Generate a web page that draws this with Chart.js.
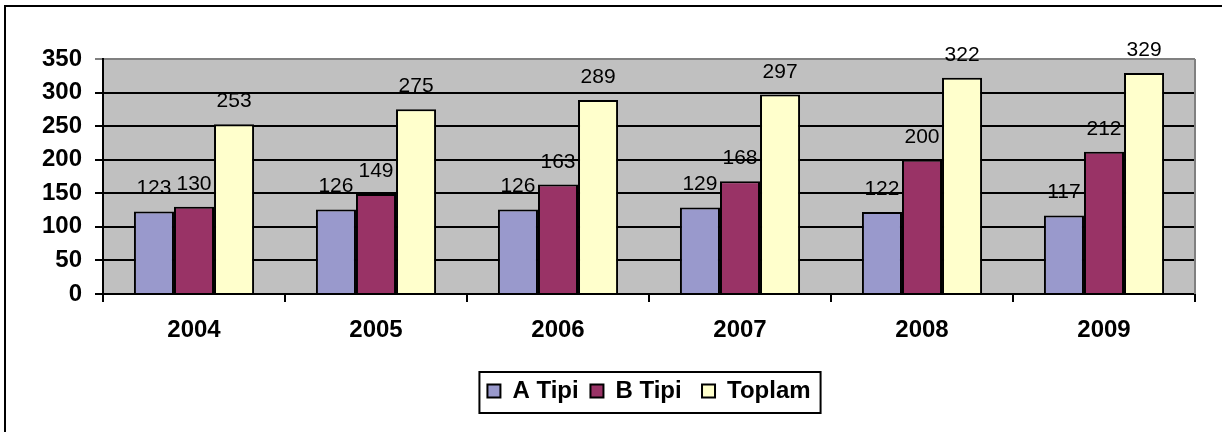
<!DOCTYPE html>
<html>
<head>
<meta charset="utf-8">
<script src="https://cdn.jsdelivr.net/npm/chart.js@4.4.1/dist/chart.umd.min.js"></script>
<style>
  html, body { margin: 0; padding: 0; background: #fff; }
  #wrap { width: 1222px; height: 432px; position: relative; }
</style>
</head>
<body>
<div id="wrap"><canvas id="salesChart"></canvas></div>
<script>
const years = ['2004', '2005', '2006', '2007', '2008', '2009'];
const aTipi = [123, 126, 126, 129, 122, 117];
const bTipi = [130, 149, 163, 168, 200, 212];
const toplam = [253, 275, 289, 297, 322, 329];
const yTicks = [0, 50, 100, 150, 200, 250, 300, 350];

// gri çizim alanı, değer etiketleri, lejant çerçevesi
const excelLook = {
    id: 'excelLook',
    beforeDraw(chart) {
        const a = chart.chartArea;
        const ctx = chart.ctx;
        ctx.save();
        ctx.fillStyle = '#C0C0C0';
        ctx.fillRect(a.left, a.top, a.right - a.left, a.bottom - a.top);
        ctx.restore();
    },
    afterDatasetsDraw(chart) {
        const ctx = chart.ctx;
        ctx.save();
        ctx.font = '21px "Liberation Sans", Arial, sans-serif';
        ctx.fillStyle = '#000';
        ctx.textAlign = 'center';
        ctx.textBaseline = 'alphabetic';
        chart.data.datasets.forEach((ds, i) => {
            chart.getDatasetMeta(i).data.forEach((bar, j) => {
                ctx.fillText(ds.data[j], bar.x, bar.y - 17);
            });
        });
        ctx.restore();
    },
    afterDraw(chart) {
        const ctx = chart.ctx;
        const a = chart.chartArea;
        ctx.save();
        // sağ kenar
        ctx.strokeStyle = '#808080';
        ctx.lineWidth = 2;
        ctx.beginPath();
        ctx.moveTo(a.right, a.top);
        ctx.lineTo(a.right, a.bottom);
        ctx.stroke();
        // lejant çerçevesi
        const lg = chart.legend;
        if (lg && lg.legendHitBoxes && lg.legendHitBoxes.length) {
            const hb = lg.legendHitBoxes;
            const l = hb[0].left - 8;
            const r = hb[hb.length - 1].left + hb[hb.length - 1].width + 10;
            ctx.strokeStyle = '#000';
            ctx.lineWidth = 2;
            ctx.strokeRect(l, lg.top, r - l, lg.bottom - lg.top);
        }
        // dış çerçeve
        ctx.lineWidth = 2;
        ctx.strokeStyle = '#000';
        ctx.beginPath();
        ctx.moveTo(5, 432);
        ctx.lineTo(5, 6);
        ctx.lineTo(1222, 6);
        ctx.stroke();
        ctx.restore();
    }
};

const boldFont = { family: '"Liberation Sans", Arial, sans-serif', size: 24, weight: 'bold' };
const legendGap = ['\u2009', '\u00a0\u00a0', ''];

new Chart(document.getElementById('salesChart'), {
    type: 'bar',
    data: {
        labels: years,
        datasets: [
            { label: 'A Tipi', data: aTipi, backgroundColor: '#9999CC' },
            { label: 'B Tipi', data: bTipi, backgroundColor: '#993366' },
            { label: 'Toplam', data: toplam, backgroundColor: '#FFFFCC' }
        ].map(d => Object.assign(d, {
            borderColor: '#000',
            borderWidth: 2,
            categoryPercentage: 0.66,
            barPercentage: 1.0
        }))
    },
    options: {
        responsive: true,
        maintainAspectRatio: false,
        animation: false,
        layout: { padding: { left: 0, right: 27, top: 59, bottom: 19 } },
        plugins: {
            tooltip: { enabled: false },
            legend: {
                position: 'bottom',
                fullSize: false,
                labels: {
                    font: boldFont,
                    color: '#000',
                    boxWidth: 13,
                    boxHeight: 13,
                    padding: 7,
                    generateLabels(chart) {
                        const items = Chart.defaults.plugins.legend.labels.generateLabels(chart);
                        items.forEach((it, i) => { it.text = it.text + legendGap[i]; });
                        return items;
                    }
                }
            }
        },
        scales: {
            x: {
                offset: true,
                grid: {
                    offset: true,
                    drawOnChartArea: false,
                    drawTicks: true,
                    tickLength: 8,
                    color: '#000',
                    lineWidth: 2
                },
                border: { color: '#000', width: 2 },
                ticks: { font: boldFont, color: '#000', padding: 14 },
                afterFit(scale) { scale.height = 78; }
            },
            y: {
                min: 0,
                max: 350,
                afterBuildTicks(scale) { scale.ticks = yTicks.map(v => ({ value: v })); },
                grid: {
                    color: ctx => (ctx.tick && ctx.tick.value === 350) ? '#808080' : '#000',
                    lineWidth: 2,
                    tickLength: 8,
                    drawTicks: true
                },
                border: { color: '#000', width: 2 },
                ticks: { font: boldFont, color: '#000', padding: 13 },
                afterFit(scale) { scale.width = 103; }
            }
        }
    },
    plugins: [excelLook]
});
</script>
</body>
</html>
